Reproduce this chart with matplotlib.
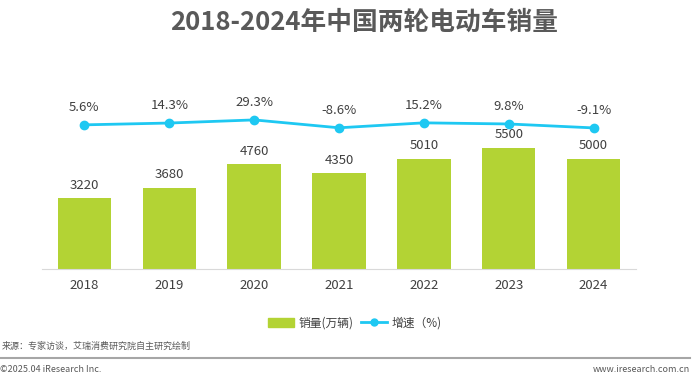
import matplotlib

matplotlib.use("Agg")
import matplotlib.pyplot as plt
from matplotlib.lines import Line2D
from matplotlib.patches import Patch

plt.rcParams["font.family"] = ["Noto Sans CJK SC", "DejaVu Sans"]

years = ["2018", "2019", "2020", "2021", "2022", "2023", "2024"]
sales = [3220, 3680, 4760, 4350, 5010, 5500, 5000]
growth = [5.6, 14.3, 29.3, -8.6, 15.2, 9.8, -9.1]

GREEN = "#b3d334"
CYAN = "#1ec8f2"
TEXT = "#404040"

W, H = 700, 377
fig = plt.figure(figsize=(W / 100, H / 100), dpi=100)
ax = fig.add_axes([42 / W, (H - 269) / H, (636 - 42) / W, 179 / H])
x = range(len(years))
ax.bar(x, sales, width=0.63, color=GREEN, zorder=2)
for i, v in enumerate(sales):
    ax.text(i, v + 300, f"{v}", ha="center", va="bottom", fontsize=9.5, color=TEXT)
ax.set_ylim(0, 8136)
ax.set_xlim(-0.5, len(years) - 0.5)
ax.set_xticks(list(x))
ax.set_xticklabels(years, fontsize=9.5, color=TEXT)
ax.tick_params(axis="x", length=0, pad=7)
ax.set_yticks([])
for s in ["top", "right", "left"]:
    ax.spines[s].set_visible(False)
ax.spines["bottom"].set_color("#d9d9d9")

# growth line on its own scale, squeezed into the band above the bars
ax2 = ax.twinx()
ax2.plot(x, growth, color=CYAN, lw=2, marker="o", ms=6, zorder=3)
for i, v in enumerate(growth):
    ax2.annotate(f"{v}%", (i, v), xytext=(0, 8), textcoords="offset points",
                 ha="center", va="bottom", fontsize=9.5, color=TEXT)
ax2.set_ylim(-687, 173)
ax2.set_yticks([])
for s in ["top", "right", "left", "bottom"]:
    ax2.spines[s].set_visible(False)

fig.text(364 / W, 1 - 22 / H, "2018-2024年中国两轮电动车销量", ha="center", va="center",
         fontsize=18.5, fontweight="bold", color="#595959")

handles = [Patch(color=GREEN), Line2D([], [], color=CYAN, lw=2, marker="o", ms=5)]
fig.legend(handles, ["销量(万辆)", "增速（%)"], loc="center", bbox_to_anchor=(355 / W, 1 - 323 / H),
           ncol=2, frameon=False, fontsize=8.5, handlelength=2.2, columnspacing=0.6,
           handletextpad=0.4, labelcolor=TEXT)

fig.text(2 / W, 1 - 346 / H, "来源：专家访谈，艾瑞消费研究院自主研究绘制", fontsize=6.5,
         color="#595959", va="center")
fig.add_artist(Line2D([0, 690 / W], [1 - 358 / H] * 2, color="#a6a6a6", lw=1.5))
fig.text(0, 1 - 369 / H, "©2025.04 iResearch Inc.", fontsize=6.5, color="#595959", va="center")
fig.text(690 / W, 1 - 369 / H, "www.iresearch.com.cn", fontsize=6.5, color="#595959",
         va="center", ha="right")

fig.savefig("out.png", dpi=100)
